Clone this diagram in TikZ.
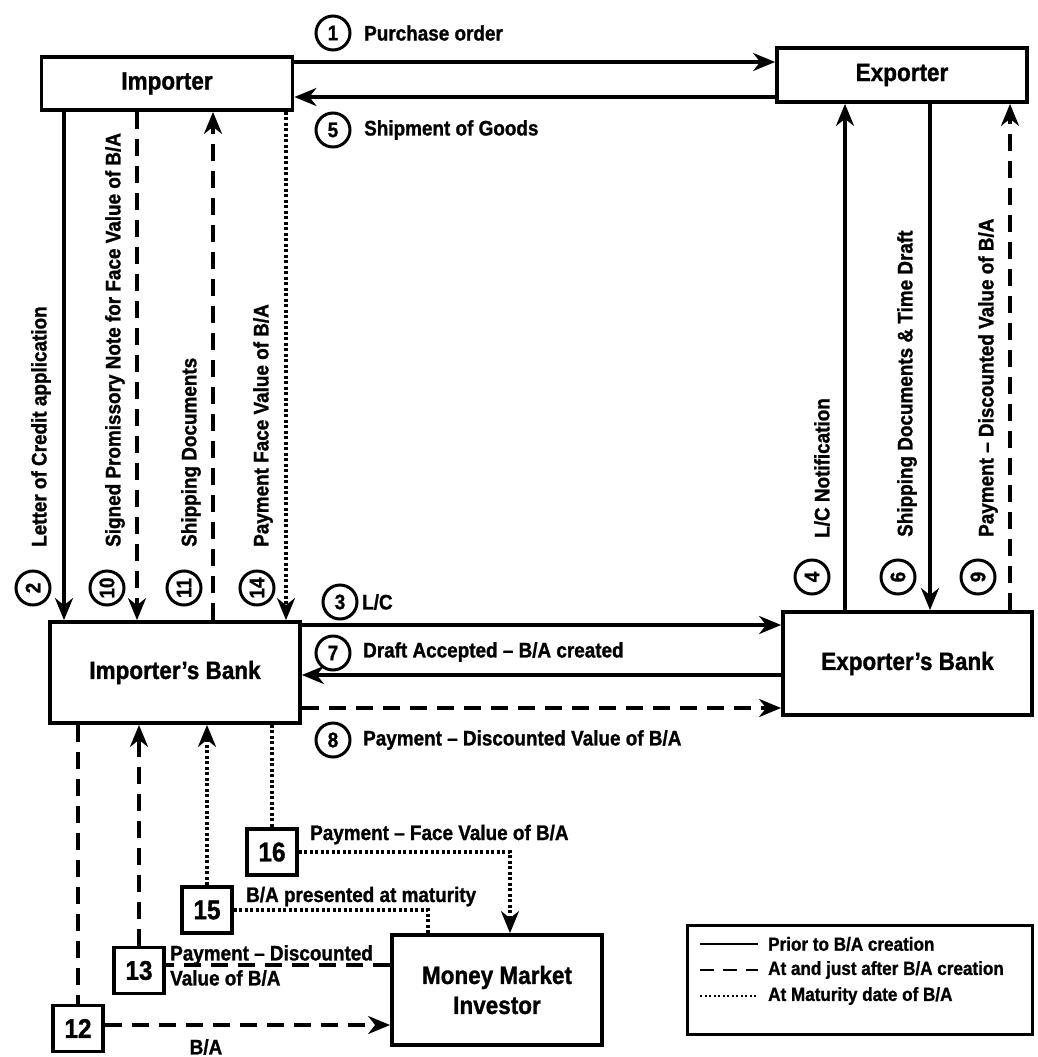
\documentclass[tikz,border=0pt]{standalone}
\usepackage{fontspec}
\setmainfont{Liberation Sans}[FakeStretch=0.9, BoldFeatures={FakeBold=1.2}]
\usetikzlibrary{arrows.meta,calc}
\begin{document}
\begin{tikzpicture}[x=1pt,y=-1pt,
  box/.style={draw, line width=3.8pt, inner sep=0pt, align=center, font=\bfseries\fontsize{25}{30}\selectfont},
  nbox/.style={draw, line width=3.8pt, minimum width=50pt, minimum height=46pt, inner sep=0pt, font=\bfseries\fontsize{27}{27}\selectfont},
  circ/.style={circle, draw, line width=3pt, minimum size=34pt, inner sep=0pt, font=\bfseries\fontsize{21}{21}\selectfont},
  lab/.style={inner sep=0pt, font=\bfseries\fontsize{21}{25}\selectfont},
  leglab/.style={inner sep=0pt, anchor=west, font=\bfseries\fontsize{19}{22}\selectfont},
  conn/.style={line width=3.4pt},
  arr/.style={conn, -{Stealth[length=22pt,width=18pt,inset=7pt]}},
  dsh/.style={dash pattern=on 17pt off 10pt},
  dtt/.style={dash pattern=on 3pt off 2.5pt}]
\useasboundingbox (0,0) rectangle (1038,1057);

% main boxes
\node[box, minimum width=251pt, minimum height=53pt] (imp) at (167,83.5) {Importer};
\node[box, minimum width=250pt, minimum height=54pt] (exp) at (902,75) {Exporter};
\node[box, minimum width=250pt, minimum height=101pt] (ib) at (175,672.5) {Importer’s Bank};
\node[box, minimum width=249pt, minimum height=103pt] (eb) at (907.5,663.5) {Exporter’s Bank};
\node[box, minimum width=210pt, minimum height=110pt] (mmi) at (497,990) {Money Market\\Investor};

% numbered boxes
\node[nbox] (b12) at (78,1028.5) {12};
\node[nbox] (b13) at (139,970.5) {13};
\node[nbox] (b15) at (207,910) {15};
\node[nbox] (b16) at (272,852) {16};

% helper coordinates
\coordinate (y1) at (0,62);
\coordinate (y5) at (0,97);
\coordinate (y3) at (0,625);
\coordinate (y7) at (0,675);
\coordinate (y8) at (0,708);
\coordinate (x2) at (64,0);
\coordinate (x10) at (137,0);
\coordinate (x11) at (213,0);
\coordinate (x14) at (286,0);
\coordinate (x4) at (845,0);
\coordinate (x6) at (930,0);
\coordinate (x9) at (1010,0);
\coordinate (x16r) at (510,0);
\coordinate (x15r) at (428,0);
\coordinate (y13) at (0,965);
\coordinate (y12) at (0,1025);

% top connectors
\draw[arr] (imp.east |- y1) -- (exp.west |- y1);
\draw[arr] (exp.west |- y5) -- (imp.east |- y5);
% bank connectors
\draw[arr] (ib.east |- y3) -- (eb.west |- y3);
\draw[arr] (eb.west |- y7) -- (ib.east |- y7);
\draw[arr, dsh] (ib.east |- y8) -- (eb.west |- y8);
% left verticals
\draw[arr] (imp.south -| x2) -- (ib.north -| x2);
\draw[arr, dsh] (imp.south -| x10) -- (ib.north -| x10);
\draw[arr, dsh] (ib.north -| x11) -- (imp.south -| x11);
\draw[arr, dtt] (imp.south -| x14) -- (ib.north -| x14);
% right verticals
\draw[arr] (eb.north -| x4) -- (exp.south -| x4);
\draw[arr] (exp.south -| x6) -- (eb.north -| x6);
\draw[arr, dsh] (eb.north -| x9) -- (exp.south -| x9);
% bottom connectors
\draw[conn, dsh] (ib.south -| b12) -- (b12.north);
\draw[arr, dsh] (b13.north) -- (ib.south -| b13);
\draw[arr, dtt] (b15.north) -- (ib.south -| b15);
\draw[conn, dtt] (ib.south -| b16) -- (b16.north);
\draw[arr, dtt] (b16.east) -| (mmi.north -| x16r);
\draw[conn, dtt] (b15.east) -| (mmi.north -| x15r);
\draw[conn, dsh] (mmi.west |- y13) -- (b13.east |- y13);
\draw[arr, dsh] (b12.east |- y12) -- (mmi.west |- y12);

% horizontal labels
\node[circ] (c1) at (333,33) {1};
\node[lab, anchor=west] (t1) at (364,33) {Purchase order};
\node[circ] (c5) at (333,130) {5};
\node[lab, anchor=west] (t5) at (364,130) {Shipment of Goods};
\node[circ] (c3) at (340,602) {3};
\node[lab, anchor=west] (t3) at (362,602) {L/C};
\node[circ] (c7) at (333,653) {7};
\node[lab, anchor=west] (t7) at (363,652) {Draft Accepted – B/A created};
\node[circ] (c8) at (333,740) {8};
\node[lab, anchor=west] (t8) at (363,740) {Payment – Discounted Value of B/A};

% left vertical labels
\node[circ, rotate=90] (c2) at (33,588) {2};
\node[circ, rotate=90] (c10) at (107,588) {10};
\node[circ, rotate=90] (c11) at (184,588) {11};
\node[circ, rotate=90] (c14) at (257,588) {14};
\node[lab, rotate=90, anchor=west] (t2) at (41,547) {Letter of Credit application};
\node[lab, rotate=90, anchor=west] (t10) at (115,547) {Signed Promissory Note for Face Value of B/A};
\node[lab, rotate=90, anchor=west] (t11) at (191,547) {Shipping Documents};
\node[lab, rotate=90, anchor=west] (t14) at (263,547) {Payment Face Value of B/A};

% right vertical labels
\node[circ, rotate=90] (c4) at (812,577) {4};
\node[circ, rotate=90] (c6) at (898,577) {6};
\node[circ, rotate=90] (c9) at (978,577) {9};
\node[lab, rotate=90, anchor=west] (t4) at (822,538) {L/C Notification};
\node[lab, rotate=90, anchor=west] (t6) at (907,537) {Shipping Documents \& Time Draft};
\node[lab, rotate=90, anchor=west] (t9) at (988,537) {Payment – Discounted Value of B/A};

% bottom labels
\node[lab, anchor=base west] (t16) at (310,840) {Payment – Face Value of B/A};
\node[lab, anchor=base west] (t15) at (246,902) {B/A presented at maturity};
\node[lab, anchor=north west, align=left] (t13) at (170,945) {Payment – Discounted\\Value of B/A};
\node[lab] (t12) at (206,1047) {B/A};

% legend
\node[draw, line width=3pt, minimum width=345pt, minimum height=109pt, inner sep=0pt] (leg) at (859.5,979.5) {};
\coordinate (l1a) at (700,944); \coordinate (l1b) at (758,944);
\coordinate (l2a) at (700,970); \coordinate (l2b) at (758,970);
\coordinate (l3a) at (700,996); \coordinate (l3b) at (758,996);
\draw[line width=2.4pt] (l1a) -- (l1b);
\draw[line width=2.8pt, dash pattern=on 14pt off 9pt] (l2a) -- (l2b);
\draw[line width=2.4pt, dash pattern=on 2pt off 2.5pt] (l3a) -- (l3b);
\node[leglab] (g1) at (768,944) {Prior to B/A creation};
\node[leglab] (g2) at (768,970) {At and just after B/A creation};
\node[leglab] (g3) at (768,996) {At Maturity date of B/A};
\end{tikzpicture}
\end{document}
